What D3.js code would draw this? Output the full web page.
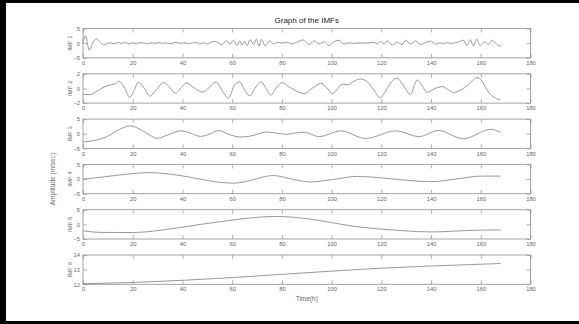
<!DOCTYPE html>
<html>
<head>
<meta charset="utf-8">
<script src="https://cdn.jsdelivr.net/npm/d3@7"></script>
<style>
  body { margin: 0; background: #fff; }
  svg { display: block; font-family: "Liberation Sans", Arial, sans-serif; }
</style>
</head>
<body>
<svg id="chart" width="579" height="324"></svg>
<script>
// IMF values (time in hours)
const imf1Time = [0,1,2.5,4,5.5,7,8.3,9.5,11,12.5,14,15.5,17,18.5,20,21.5,23,24.5,26,27.5,29,30.5,32,33.5,35,36.5,38,39.5,41,42.5,44,45.5,47,48.5,50,51.5,53,54.5,55.8,57.8,59,60.5,62,63,64,65,66,67.2,68.6,69.7,70.8,71.8,73.3,75,76.6,78.3,80,82,84,86,88.5,91,93,95,97,99,101,103,105,107,109,111,113,115,117,118.3,119.7,121,122.3,124.4,126.4,128.4,129.8,131.8,133.8,135.8,137.8,139.8,141.8,143.5,145,146.5,148,149.5,151,153,154.4,155.7,157,158.4,159.7,161.7,163,164.6,166.3,167.3,168];
const imf1Vals = [0,2.6,-2.4,0.3,1.4,0.3,-0.6,-0.3,0.1,-0.2,0.2,-0.1,0.2,-0.2,0.1,-0.2,0.2,0,-0.2,0.1,-0.1,0.2,-0.1,0.1,-0.2,0.1,0.2,-0.1,0.1,-0.2,0.1,0.3,-0.2,0.1,-0.3,0.3,0.6,0.1,-0.5,0.8,-0.3,1.0,-0.8,0.8,-0.7,0.7,-0.8,1.2,-0.5,1.3,-1.0,1.2,-1.0,0.8,-0.3,0.3,0,0.3,-0.2,0.3,1.1,-0.5,0.8,-0.3,0.5,-0.8,0.5,1.0,-0.3,0.1,-0.1,0.1,0,0.1,0.3,-0.3,0.6,-0.3,0.8,-0.6,0.3,-0.5,1.0,-0.3,0.8,-0.5,0.2,0.7,-0.3,0.1,-0.2,0.2,-0.1,0.1,0.4,1.0,-0.8,1.2,-1.0,1.3,-0.8,0.5,-0.5,1.0,-0.3,-0.9,-0.8];

const imf2Time = [0,3,5,7,9,11,13,14.5,16.5,18.8,20.5,22.3,24.5,27,29.6,32.5,35,37.2,39.5,41.5,45,48,51,53.5,56,58.5,61,63,65,67,69.5,71.5,73.5,75.5,78,80,82.5,85.5,89,92.5,95.7,98,100.4,102.5,104.3,106.5,109,111.5,114,117,119.5,122,124,126.3,128.5,131.7,134.4,136.5,138.4,141,144.5,147,149,152,155,158.4,160.5,162.5,164.5,166.5,168];
const imf2Vals = [-0.8,-0.85,-0.5,-0.1,0.3,0.45,0.65,1.0,0.2,-1.2,-0.3,0.85,0.1,-1.05,-0.1,0.8,0.1,-0.65,0.1,0.75,0.0,-0.5,0.2,0.9,-0.3,-1.3,0.5,0.9,-0.2,-1.0,0.2,0.9,0.1,-0.9,0.2,0.8,0.3,-0.3,-0.7,0.1,0.7,0.1,-0.7,0.0,0.6,0.5,1.0,1.3,1.0,-0.2,-1.25,-0.2,0.9,1.4,0.6,-0.8,1.15,0.3,-0.55,-0.1,0.25,-0.2,-0.55,-0.2,0.5,1.5,1.0,-0.2,-1.0,-1.4,-1.6];

const imf3Time = [0,4,9.5,14.8,19,23,27.5,29.8,33.8,39.3,43,47.3,51.3,54.5,58,63.2,67.3,74,78.5,82,85,89,95,103.6,113.6,126,135,143,153,164,168];
const imf3Vals = [-2.8,-2.4,-1.0,1.5,2.7,1.5,-0.8,-1.6,-0.5,1.0,0.3,-0.9,0.0,1.1,0.0,-1.1,-0.8,0.6,0.1,-0.2,0.2,0.5,-1.0,1.0,-1.6,1.0,-1.0,1.1,-1.7,1.5,0.5];

const imf4Time = [0,7,13.8,20.5,26,33.8,42,50,56,60.7,67.3,72,76.6,82,86,91.6,100,110.4,120,130,139.7,150,160,168];
const imf4Vals = [0,0.6,1.3,1.9,2.2,1.8,0.8,-0.5,-1.2,-1.4,-0.5,0.6,1.2,0.4,-0.4,-1.0,-0.2,0.9,0.4,-0.4,-0.9,0.0,1.0,1.0];

const imf5Time = [0,7,20.5,28.5,38,47.4,58,68.6,76.6,83.4,91.4,100,110,119.7,129,140,150,158,168];
const imf5Vals = [-2.2,-2.75,-2.8,-2.3,-1.2,0,1.2,2.3,2.7,2.5,1.8,0.6,-0.8,-1.6,-2.2,-2.6,-2.3,-2.0,-1.9];

const imf6Time = [0,20,41,61,82,100,120,140,168];
const imf6Vals = [12.04,12.13,12.28,12.47,12.7,12.9,13.1,13.25,13.42];

const imfNames = ['IMF 1','IMF 2','IMF 3','IMF 4','IMF 5','IMF 6'];
const imfDomains = [[-5,5],[-2,2],[-5,5],[-5,5],[-5,5],[12,14]];
const imfTicks = [[-5,0,5],[-2,0,2],[-5,0,5],[-5,0,5],[-5,0,5],[12,13,14]];
const xTicks = [0,20,40,60,80,100,120,140,160,180];

const series = [
  [imf1Time, imf1Vals], [imf2Time, imf2Vals], [imf3Time, imf3Vals],
  [imf4Time, imf4Vals], [imf5Time, imf5Vals], [imf6Time, imf6Vals]
];

const svg = d3.select('#chart');
const left = 83, right = 530.5, top0 = 28.5, step = 45.3, ph = 29.3;
const boxColor = '#999', lineColor = '#8c8c8c', textColor = '#666';

// black frame
svg.append('rect').attr('x', 0).attr('y', 0).attr('width', 579).attr('height', 324).attr('fill', '#fff');
svg.append('rect').attr('x', 0).attr('y', 0).attr('width', 579).attr('height', 3).attr('fill', '#000');
svg.append('rect').attr('x', 0).attr('y', 0).attr('width', 6).attr('height', 324).attr('fill', '#000');
svg.append('rect').attr('x', 0).attr('y', 321).attr('width', 579).attr('height', 3).attr('fill', '#000');

const x = d3.scaleLinear().domain([0, 180]).range([left, right]);
const fmt = d3.format('~g');

series.forEach((s, i) => {
  const top = top0 + i * step, bottom = top + ph;
  const y = d3.scaleLinear().domain(imfDomains[i]).range([bottom, top]);
  const g = svg.append('g');

  // inward ticks, MATLAB style
  const gb = g.append('g').attr('transform', `translate(0,${bottom})`)
    .call(d3.axisBottom(x).tickValues(xTicks).tickSize(-4).tickPadding(3).tickFormat(fmt));
  const gt = g.append('g').attr('transform', `translate(0,${top})`)
    .call(d3.axisTop(x).tickValues(xTicks).tickSize(-4).tickFormat(''));
  const gl = g.append('g').attr('transform', `translate(${left},0)`)
    .call(d3.axisLeft(y).tickValues(imfTicks[i]).tickSize(-4).tickPadding(3).tickFormat(fmt));
  const gr = g.append('g').attr('transform', `translate(${right},0)`)
    .call(d3.axisRight(y).tickValues(imfTicks[i]).tickSize(-4).tickFormat(''));
  [gb, gt, gl, gr].forEach(a => {
    a.select('.domain').remove();
    a.selectAll('line').attr('stroke', boxColor).attr('stroke-width', 0.8);
    a.selectAll('text').attr('fill', textColor).attr('font-size', 5.8)
      .attr('font-family', '"Liberation Sans", Arial, sans-serif');
  });

  g.append('rect').attr('x', left).attr('y', top).attr('width', right - left).attr('height', ph)
    .attr('fill', 'none').attr('stroke', boxColor).attr('stroke-width', 0.9);

  const line = d3.line().x(d => x(d[0])).y(d => y(d[1])).curve(d3.curveMonotoneX);
  g.append('path').datum(d3.zip(s[0], s[1])).attr('d', line)
    .attr('fill', 'none').attr('stroke', lineColor).attr('stroke-width', 0.9);

  g.append('text').attr('transform', `translate(70,${top + ph / 2}) rotate(-90)`)
    .attr('text-anchor', 'middle').attr('dominant-baseline', 'middle')
    .attr('font-size', 6).attr('fill', textColor).text(imfNames[i]);
});

svg.append('text').attr('x', (left + right) / 2).attr('y', 23).attr('text-anchor', 'middle')
  .attr('font-size', 8).attr('fill', '#222').text('Graph of the IMFs');
svg.append('text').attr('x', (left + right) / 2).attr('y', 301).attr('text-anchor', 'middle')
  .attr('font-size', 6.5).attr('fill', textColor).text('Time(h)');
svg.append('text').attr('transform', `translate(53,${top0 + 3 * step + ph / 2}) rotate(-90)`)
  .attr('text-anchor', 'middle').attr('dominant-baseline', 'middle')
  .attr('font-size', 6.5).attr('fill', textColor).text('Amplitude (m/sec)');
</script>
</body>
</html>
